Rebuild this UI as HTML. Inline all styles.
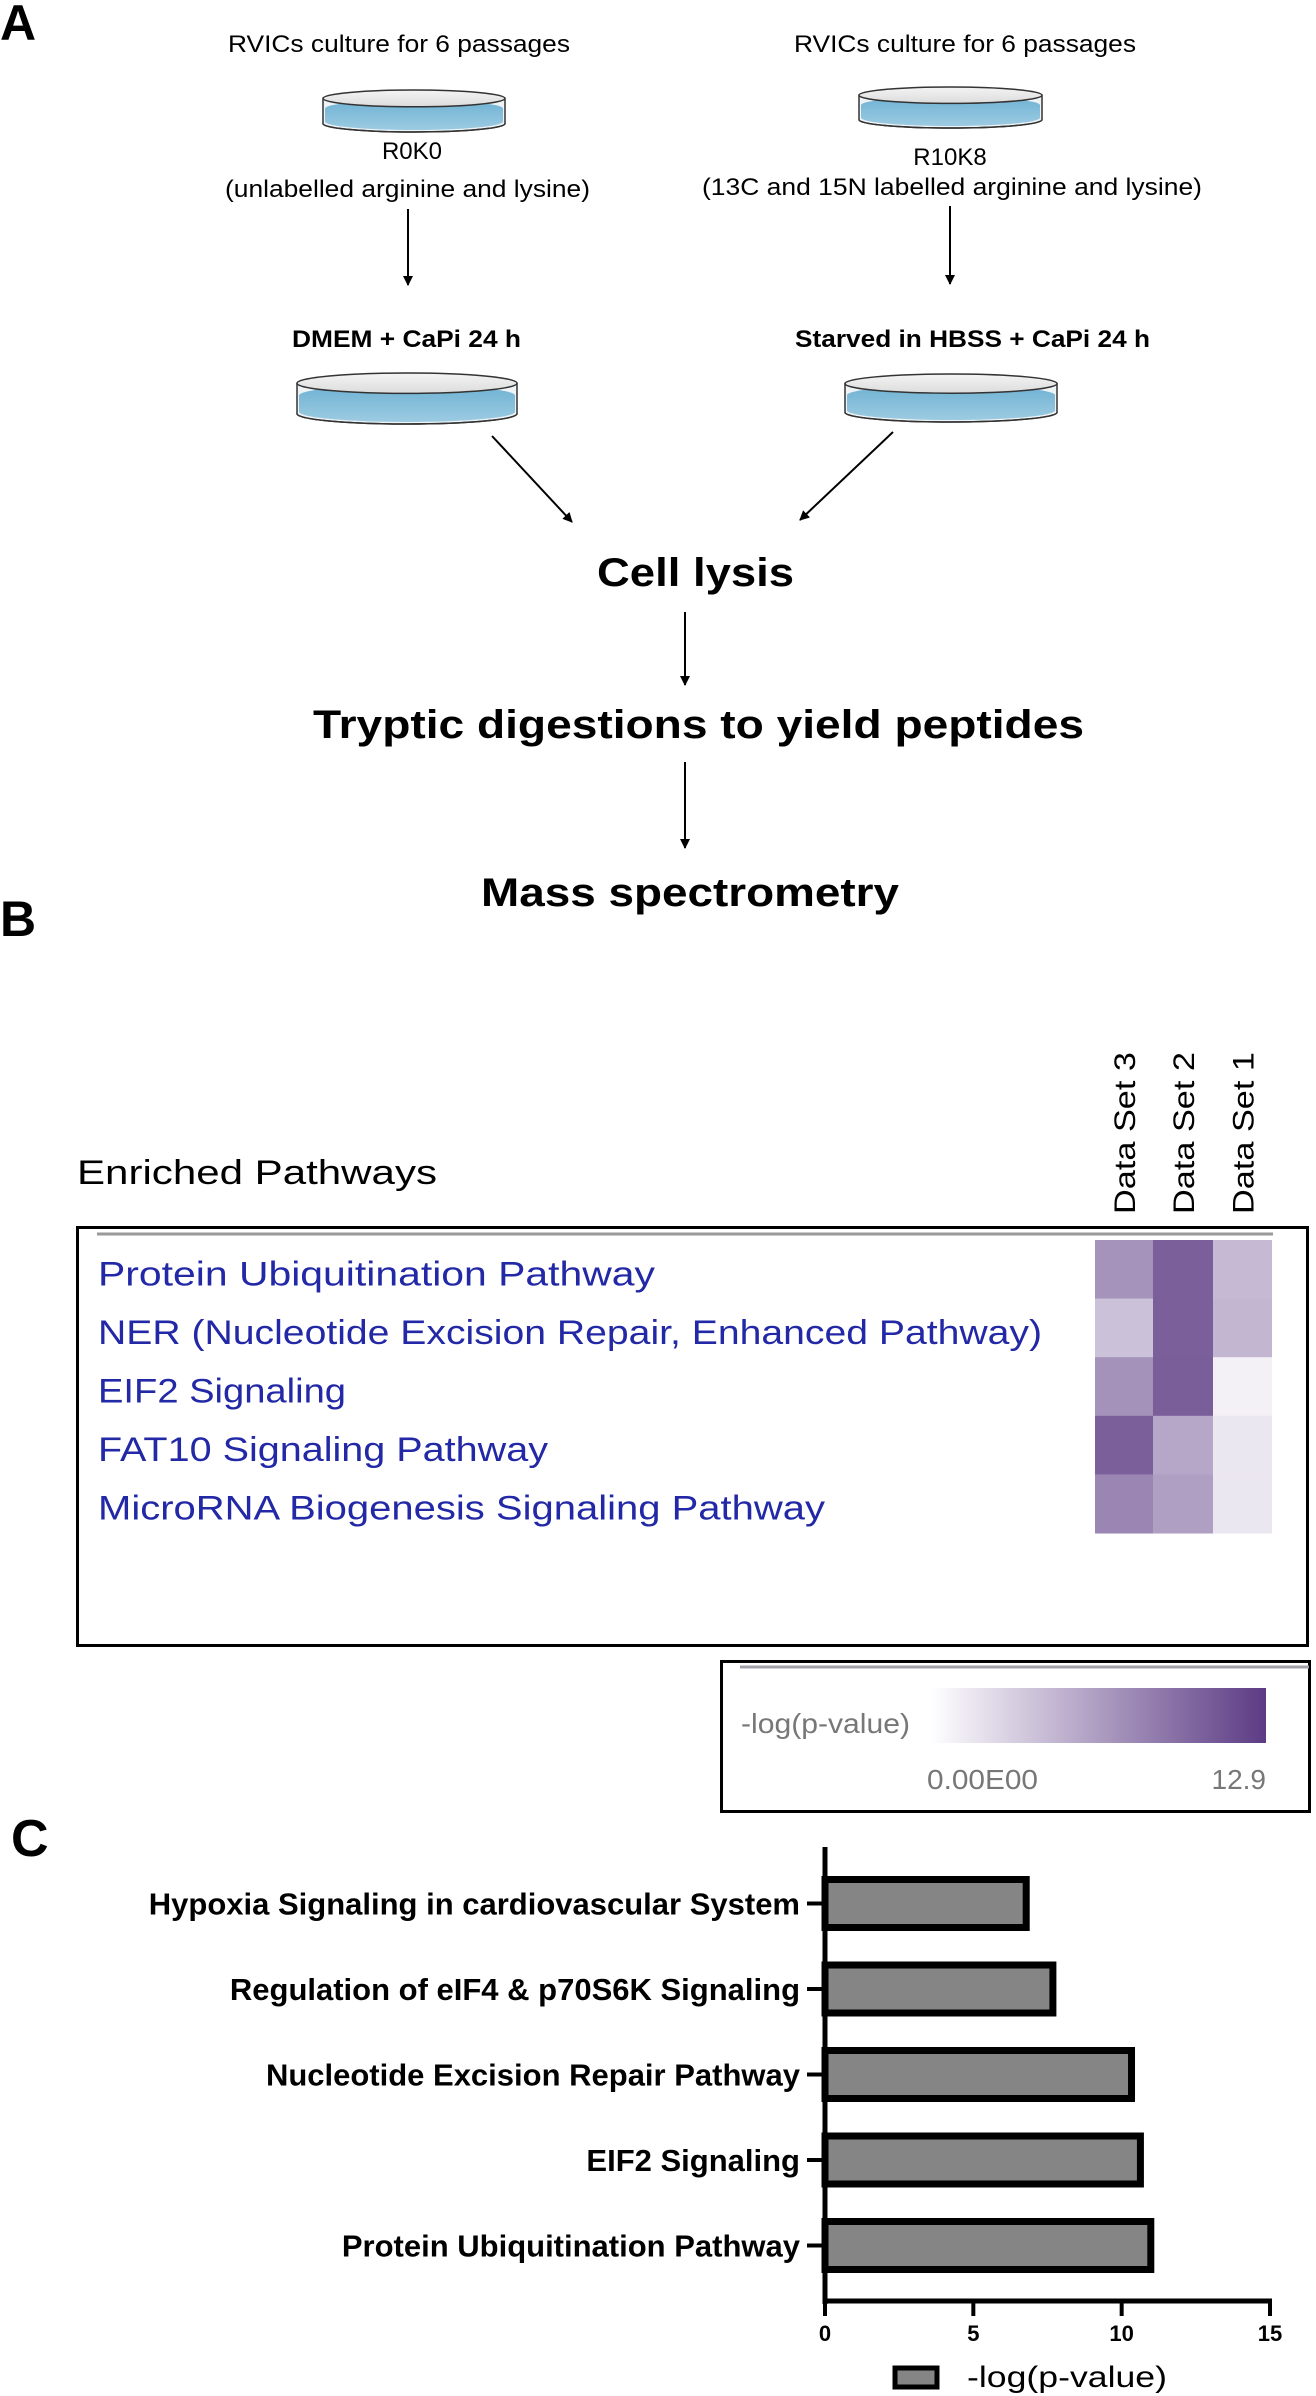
<!DOCTYPE html>
<html><head><meta charset="utf-8"><style>
html,body{margin:0;padding:0;background:#fff;}
svg{display:block;}
text{font-family:"Liberation Sans",Arial,sans-serif;}
</style></head><body>
<svg id="fig" width="1316" height="2396" viewBox="0 0 1316 2396" xmlns="http://www.w3.org/2000/svg">
<defs>
  <linearGradient id="lid" x1="0" y1="0" x2="0" y2="1"><stop offset="0" stop-color="#f4f4f4"/><stop offset="1" stop-color="#dcdcdc"/></linearGradient>
  <linearGradient id="liq" x1="0" y1="0" x2="0" y2="1"><stop offset="0" stop-color="#6fb2d3"/><stop offset="1" stop-color="#9ccbe2"/></linearGradient>
  <linearGradient id="cbar" x1="0" y1="0" x2="1" y2="0"><stop offset="0" stop-color="#ffffff"/><stop offset="1" stop-color="#5c3b84"/></linearGradient>
  <marker id="ah" viewBox="0 0 10 10" refX="9" refY="5" markerWidth="5" markerHeight="5" orient="auto"><path d="M0,0 L10,5 L0,10 z" fill="#000"/></marker>
</defs>

<!-- Panel A -->
<text x="0" y="40" font-size="50" font-weight="bold">A</text>
<g font-size="24" fill="#000">
  <text x="228" y="52" textLength="342" lengthAdjust="spacingAndGlyphs">RVICs culture for 6 passages</text>
  <text x="794" y="52" textLength="342" lengthAdjust="spacingAndGlyphs">RVICs culture for 6 passages</text>
  <text x="412" y="159" text-anchor="middle">R0K0</text>
  <text x="225" y="197" textLength="365" lengthAdjust="spacingAndGlyphs">(unlabelled arginine and lysine)</text>
  <text x="950" y="165" text-anchor="middle">R10K8</text>
  <text x="702" y="195" textLength="500" lengthAdjust="spacingAndGlyphs">(13C and 15N labelled arginine and lysine)</text>
  <text x="292" y="347" font-weight="bold" textLength="229" lengthAdjust="spacingAndGlyphs">DMEM + CaPi 24 h</text>
  <text x="795" y="347" font-weight="bold" textLength="355" lengthAdjust="spacingAndGlyphs">Starved in HBSS + CaPi 24 h</text>
  <text x="597" y="586" font-size="40" font-weight="bold" textLength="197" lengthAdjust="spacingAndGlyphs">Cell lysis</text>
  <text x="313" y="738" font-size="40" font-weight="bold" textLength="771" lengthAdjust="spacingAndGlyphs">Tryptic digestions to yield peptides</text>
  <text x="481" y="906" font-size="40" font-weight="bold" textLength="418" lengthAdjust="spacingAndGlyphs">Mass spectrometry</text>
</g>
<g id="dishes"></g>
<g stroke="#000" stroke-width="2" fill="none" marker-end="url(#ah)">
  <line x1="408" y1="209" x2="408" y2="285"/>
  <line x1="950" y1="206" x2="950" y2="284"/>
  <line x1="492" y1="436" x2="572" y2="522"/>
  <line x1="893" y1="432" x2="800" y2="520"/>
  <line x1="685" y1="612" x2="685" y2="685"/>
  <line x1="685" y1="762" x2="685" y2="848"/>
</g>

<!-- Panel B -->
<text x="0" y="936" font-size="50" font-weight="bold">B</text>
<text x="77" y="1184" font-size="34" textLength="360" lengthAdjust="spacingAndGlyphs">Enriched Pathways</text>
<rect x="77.5" y="1227.5" width="1230" height="418" fill="none" stroke="#000" stroke-width="3"/>
<line x1="97" y1="1234" x2="1273" y2="1234" stroke="#9a9a9a" stroke-width="3"/>
<g id="heatmap"></g>

<rect x="721.5" y="1661.5" width="588" height="150" fill="none" stroke="#000" stroke-width="3"/>
<line x1="740" y1="1667" x2="1309" y2="1667" stroke="#a0a0a8" stroke-width="3"/>
<rect x="930" y="1688" width="336" height="55" fill="url(#cbar)"/>
<text x="741" y="1733" font-size="28" fill="#777" textLength="169" lengthAdjust="spacingAndGlyphs">-log(p-value)</text>
<text x="927" y="1789" font-size="28" fill="#777" textLength="111" lengthAdjust="spacingAndGlyphs">0.00E00</text>
<text x="1266" y="1789" font-size="28" fill="#777" text-anchor="end">12.9</text>

<!-- Panel C -->
<text x="11" y="1856" font-size="52" font-weight="bold">C</text>
<g id="barchart"></g>
</svg>

<script>
// ---------- Heatmap data ----------
const pathways = ["Protein Ubiquitination Pathway","NER (Nucleotide Excision Repair, Enhanced Pathway)","EIF2 Signaling","FAT10 Signaling Pathway","MicroRNA Biogenesis Signaling Pathway"];
const pathwayWidths = [557, 944, 248, 450, 727];
const dataSets = ["Data Set 3","Data Set 2","Data Set 1"];
const set3Values = [7.1, 4.1, 7.2, 10.5, 8.0];
const set2Values = [10.5, 10.5, 10.6, 5.8, 6.3];
const set1Values = [4.6, 4.8, 0.95, 1.6, 1.6];
const colorMax = 12.9;

// ---------- Bar chart data ----------
const barCategories = ["Hypoxia Signaling in cardiovascular System","Regulation of eIF4 & p70S6K Signaling","Nucleotide Excision Repair Pathway","EIF2 Signaling","Protein Ubiquitination Pathway"];
const barValues = [6.9, 7.8, 10.45, 10.75, 11.1];
const xTicks = [0, 5, 10, 15];

const NS = "http://www.w3.org/2000/svg";
function mk(tag, attrs, parent){ const e=document.createElementNS(NS,tag); for(const k in attrs) e.setAttribute(k,attrs[k]); parent.appendChild(e); return e; }

// Dishes
const dishG = document.getElementById('dishes');
const dishes = [[323,90,505,132],[859,87,1042,128],[297,373,517,424],[845,374,1057,422]];
const dishNames = ['dish-r0k0','dish-r10k8','dish-dmem','dish-hbss'];
dishes.forEach((d,i)=>{
  const [x1,y1,x2,y2]=d; const cx=(x1+x2)/2, rx=(x2-x1)/2, ry=(y2-y1)*0.2;
  const g=mk('g',{},dishG);
  
  
  mk('path',{d:`M${x1},${y1+ry} L${x1},${y2-ry} A${rx},${ry} 0 0 0 ${x2},${y2-ry} L${x2},${y1+ry} Z`,fill:'#eef3f6',stroke:'#333','stroke-width':1.5},g);
  mk('path',{d:`M${x1+2},${y1+ry*2.2} A${rx-2},${ry} 0 0 1 ${x2-2},${y1+ry*2.2} L${x2-2},${y2-ry-2} A${rx-2},${ry} 0 0 1 ${x1+2},${y2-ry-2} Z`,fill:'url(#liq)'},g);
  mk('path',{d:`M${x1},${y2-ry} A${rx},${ry} 0 0 0 ${x2},${y2-ry}`,fill:'none',stroke:'#333','stroke-width':1.5},g);
  mk('ellipse',{cx:cx,cy:y1+ry,rx:rx,ry:ry,fill:'url(#lid)',stroke:'#333','stroke-width':1.5},g);
});

// Heatmap
const hm = document.getElementById('heatmap');
const colX = [1095,1153,1213];
const colW = [58,60,59];
const rowY0 = 1240, rowH = 58.6;
function colorFor(v){
  const t=Math.max(0,Math.min(1,v/colorMax));
  const c0=[255,255,255], c1=[92,59,132];
  return 'rgb('+c0.map((a,i)=>Math.round(a+(c1[i]-a)*t)).join(',')+')';
}
const cols = [set3Values,set2Values,set1Values];
pathways.forEach((p,r)=>{
  const t=mk('text',{x:98,y:(rowY0+rowH*r+rowH/2+16).toFixed(1),'font-size':34,fill:'#2228a6',textLength:pathwayWidths[r],lengthAdjust:'spacingAndGlyphs'},hm);
  t.textContent=p;
  
  
  cols.forEach((vals,c)=>{
    const rc=mk('rect',{x:colX[c],y:(rowY0+rowH*r).toFixed(1),width:colW[c],height:(rowH+0.5).toFixed(1),fill:colorFor(vals[r])},hm);
    
    
  });
});
dataSets.forEach((s,c)=>{
  const cx=colX[c]+colW[c]/2+11;
  const t=mk('text',{x:cx,y:1214,'font-size':30,transform:`rotate(-90 ${cx} 1214)`,textLength:162,lengthAdjust:'spacingAndGlyphs'},hm);
  t.textContent=s;
  
  
});

// Bar chart
const bc = document.getElementById('barchart');
const x0=825, xUnit=(1270-825)/15;
const xs = v => x0 + v*xUnit;
const bandTop=1876, pitch=85.5, barH=55;
const ys = i => bandTop + pitch*i;
const axis=mk('line',{x1:x0,y1:1847,x2:x0,y2:2304,stroke:'#000','stroke-width':5},bc);


const xaxis=mk('line',{x1:x0-2,y1:2301,x2:xs(15)+2,y2:2301,stroke:'#000','stroke-width':5},bc);


barCategories.forEach((c,i)=>{
  const y=ys(i);
  const b=mk('rect',{x:x0,y:y+3.5,width:xs(barValues[i])-x0-3.5,height:barH-7,fill:'#858585',stroke:'#000','stroke-width':7},bc);
  
  
  const tk=mk('line',{x1:807,y1:y+barH/2,x2:x0,y2:y+barH/2,stroke:'#000','stroke-width':4},bc);
  
  
  const t=mk('text',{x:800,y:y+barH/2+11,'font-size':31,'font-weight':'bold','text-anchor':'end'},bc);
  t.textContent=c;
  
  
});
xTicks.forEach(v=>{
  const tk=mk('line',{x1:xs(v),y1:2299,x2:xs(v),y2:2316,stroke:'#000','stroke-width':4},bc);
  
  
  const t=mk('text',{x:xs(v),y:2341,'font-size':22,'font-weight':'bold','text-anchor':'middle'},bc);
  t.textContent=v;
  
  
});
const sw=mk('rect',{x:895,y:2368,width:42,height:19,fill:'#858585',stroke:'#000','stroke-width':5},bc);


const lt=mk('text',{x:967,y:2387,'font-size':30,textLength:200,lengthAdjust:'spacingAndGlyphs'},bc);
lt.textContent='-log(p-value)';


</script>
</body></html>
